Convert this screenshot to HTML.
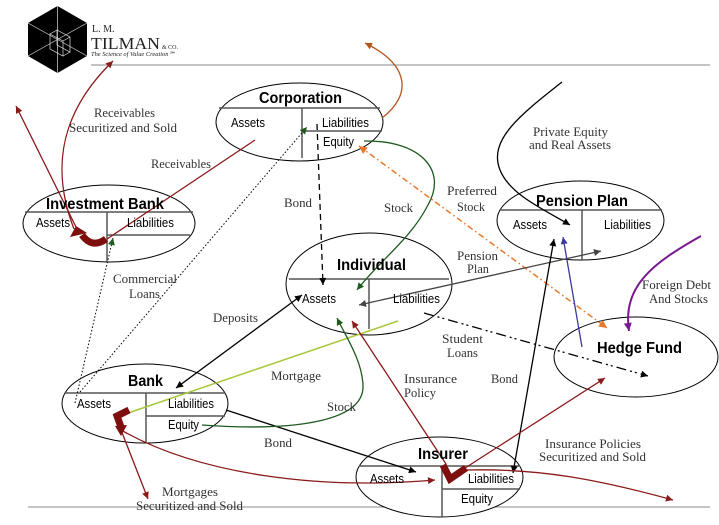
<!DOCTYPE html>
<html><head><meta charset="utf-8"><style>
html,body{margin:0;padding:0;background:#fff;}
svg{display:block;}
.t{font-family:"Liberation Sans",Arial,sans-serif;font-weight:bold;font-size:16px;fill:#000;}
.c{font-family:"Liberation Sans",Arial,sans-serif;font-size:12.5px;fill:#000;}
.s{font-family:"Liberation Serif","Times New Roman",serif;font-size:12.5px;fill:#333;}
</style></head><body>
<svg width="719" height="525" viewBox="0 0 719 525" xmlns="http://www.w3.org/2000/svg">
<defs>
<marker id="mk" viewBox="0 0 10 10" refX="10" refY="5" markerWidth="8" markerHeight="7" markerUnits="userSpaceOnUse" orient="auto-start-reverse"><path d="M0,0 L10,5 L0,10 z" fill="#000"/></marker>
<marker id="mr" viewBox="0 0 10 10" refX="10" refY="5" markerWidth="8" markerHeight="7" markerUnits="userSpaceOnUse" orient="auto-start-reverse"><path d="M0,0 L10,5 L0,10 z" fill="#8b1a1a"/></marker>
<marker id="mg" viewBox="0 0 10 10" refX="10" refY="5" markerWidth="8" markerHeight="7" markerUnits="userSpaceOnUse" orient="auto-start-reverse"><path d="M0,0 L10,5 L0,10 z" fill="#1f5a1f"/></marker>
<marker id="mo" viewBox="0 0 10 10" refX="10" refY="5" markerWidth="9" markerHeight="8" markerUnits="userSpaceOnUse" orient="auto-start-reverse"><path d="M0,0 L10,5 L0,10 z" fill="#e8792a"/></marker>
<marker id="mb" viewBox="0 0 10 10" refX="10" refY="5" markerWidth="8" markerHeight="7" markerUnits="userSpaceOnUse" orient="auto-start-reverse"><path d="M0,0 L10,5 L0,10 z" fill="#b5561f"/></marker>
<marker id="mu" viewBox="0 0 10 10" refX="10" refY="5" markerWidth="8" markerHeight="7" markerUnits="userSpaceOnUse" orient="auto-start-reverse"><path d="M0,0 L10,5 L0,10 z" fill="#3b3b9b"/></marker>
<marker id="mp" viewBox="0 0 10 10" refX="10" refY="5" markerWidth="9" markerHeight="8" markerUnits="userSpaceOnUse" orient="auto-start-reverse"><path d="M0,0 L10,5 L0,10 z" fill="#7a1890"/></marker>
<marker id="ma" viewBox="0 0 10 10" refX="10" refY="5" markerWidth="8" markerHeight="7" markerUnits="userSpaceOnUse" orient="auto-start-reverse"><path d="M0,0 L10,5 L0,10 z" fill="#444"/></marker>
</defs>
<rect width="719" height="525" fill="#fff"/>

<!-- logo -->
<polygon points="57.5,6 87,23 87,56 57.5,73 28,56 28,23" fill="#000"/>
<g stroke="#ddd" stroke-width="0.7" fill="none">
<line x1="28" y1="23" x2="87" y2="56"/>
<line x1="87" y1="23" x2="28" y2="56"/>
<line x1="57.5" y1="6" x2="57.5" y2="73"/>
<polygon points="57,30 70,37 70,52 57,45"/>
<polygon points="50,34 63,41 63,56 50,49"/>
<line x1="57" y1="30" x2="50" y2="34"/>
<line x1="70" y1="37" x2="63" y2="41"/>
<line x1="70" y1="52" x2="63" y2="56"/>
</g>
<text x="92" y="32" style="font-family:'Liberation Serif',serif;font-size:10px;fill:#222">L. M.</text>
<text x="91" y="49" textLength="69" lengthAdjust="spacingAndGlyphs" style="font-family:'Liberation Serif',serif;font-size:17px;fill:#222">TILMAN</text>
<text x="162" y="49" style="font-family:'Liberation Serif',serif;font-size:6px;fill:#222">&amp; CO.</text>
<text x="91" y="56" textLength="84" lengthAdjust="spacingAndGlyphs" style="font-family:'Liberation Serif',serif;font-style:italic;font-size:6px;fill:#222">The Science of Value Creation℠</text>

<!-- horizontal rules -->
<line x1="91" y1="65" x2="710" y2="65" stroke="#888" stroke-width="1"/>
<line x1="28" y1="507" x2="710" y2="507" stroke="#888" stroke-width="1"/>

<!-- ellipses -->
<g fill="#fff" stroke="#000" stroke-width="1">
<ellipse cx="299.5" cy="122" rx="83.5" ry="39"/>
<ellipse cx="109" cy="223.5" rx="86" ry="38.5"/>
<ellipse cx="369" cy="284" rx="83" ry="51"/>
<ellipse cx="580.5" cy="220.5" rx="83.5" ry="39.5"/>
<ellipse cx="636" cy="357" rx="82" ry="40"/>
<ellipse cx="145" cy="403.5" rx="83" ry="39.5"/>
<ellipse cx="439.5" cy="477" rx="83.5" ry="40"/>
</g>

<!-- compartment lines -->
<g stroke="#555" stroke-width="1.5" fill="none">
<line x1="219" y1="108" x2="380" y2="108"/><line x1="302" y1="108" x2="302" y2="158"/><line x1="302" y1="131" x2="382" y2="131"/>
<line x1="25" y1="212" x2="193" y2="212"/><line x1="107" y1="212" x2="107" y2="262"/><line x1="107" y1="235" x2="190" y2="235"/>
<line x1="289" y1="279" x2="449" y2="279"/><line x1="369" y1="279" x2="369" y2="329"/>
<line x1="500" y1="210" x2="662" y2="210"/><line x1="582" y1="210" x2="582" y2="260"/>
<line x1="65" y1="393" x2="225" y2="393"/><line x1="146" y1="393" x2="146" y2="443"/><line x1="146" y1="416" x2="225" y2="416"/>
<line x1="359" y1="466" x2="520" y2="466"/><line x1="442" y1="466" x2="442" y2="517"/><line x1="442" y1="489" x2="520" y2="489"/>
</g>

<!-- connectors -->
<g fill="none" stroke-width="1.3">
<!-- receivables -->
<line x1="255" y1="140" x2="107" y2="239" stroke="#8b1a1a"/>
<line x1="77" y1="229" x2="16" y2="106" stroke="#8b1a1a" marker-end="url(#mr)"/>
<path d="M74 229 C55 180,52 120,113 61" stroke="#8b1a1a" marker-end="url(#mr)"/>
<!-- brown -->
<path d="M382 118 C412 95,410 65,365 43" stroke="#b5561f" marker-end="url(#mb)"/>
<!-- commercial loans dotted -->
<line x1="80" y1="392" x2="307" y2="127" stroke="#000" stroke-width="1" stroke-dasharray="1.5 2" marker-end="url(#mg)"/>
<line x1="75" y1="403" x2="113" y2="238" stroke="#000" stroke-width="1" stroke-dasharray="1.5 2" marker-end="url(#mg)"/>
<!-- bond dashed -->
<line x1="317" y1="124" x2="323" y2="285" stroke="#000" stroke-dasharray="6 4" marker-end="url(#mk)"/>
<!-- stock green -->
<path d="M364 141 C420 140,448 170,428 205 C410 240,380 260,357 290" stroke="#1f5a1f" marker-end="url(#mg)"/>
<!-- preferred stock orange -->
<line x1="359" y1="146" x2="607" y2="328" stroke="#e8792a" stroke-width="1.5" stroke-dasharray="6 3 1.5 3" marker-start="url(#mo)" marker-end="url(#mo)"/>
<!-- private equity -->
<path d="M562 82 C520 115,488 140,500 170 C510 195,545 210,570 225" stroke="#000" marker-end="url(#mk)"/>
<!-- pension plan -->
<line x1="359" y1="305" x2="601" y2="251" stroke="#444" marker-start="url(#ma)" marker-end="url(#ma)"/>
<!-- bond insurer-pension -->
<line x1="513" y1="473" x2="554" y2="239" stroke="#000" marker-start="url(#mk)" marker-end="url(#mk)"/>
<!-- blue -->
<line x1="582" y1="347" x2="563" y2="237" stroke="#3b3b9b" marker-end="url(#mu)"/>
<!-- purple -->
<path d="M701 236 C655 262,622 285,629 331" stroke="#7a1890" stroke-width="2" marker-end="url(#mp)"/>
<!-- student loans -->
<line x1="424" y1="313" x2="648" y2="376" stroke="#000" stroke-dasharray="10 4 2 3 2 4" marker-end="url(#mk)"/>
<!-- deposits -->
<line x1="176" y1="388" x2="302" y2="295" stroke="#000" marker-start="url(#mk)" marker-end="url(#mk)"/>
<!-- mortgage -->
<line x1="398" y1="321" x2="128" y2="413" stroke="#a6c83a" stroke-width="1.5"/>
<!-- mortgages securitized -->
<line x1="121" y1="430" x2="148" y2="499" stroke="#8b1a1a" marker-end="url(#mr)"/>
<path d="M121 430 C200 475,320 490,435 480" stroke="#8b1a1a" marker-end="url(#mr)"/>
<!-- bank bond -->
<line x1="226" y1="410" x2="416" y2="472" stroke="#000" marker-end="url(#mk)"/>
<!-- stock bank -> individual -->
<path d="M202 425 C300 432,365 420,363 385 C362 360,345 335,337 318" stroke="#1f5a1f" marker-end="url(#mg)"/>
<!-- insurance policy -->
<line x1="446" y1="464" x2="352" y2="321" stroke="#8b1a1a" marker-end="url(#mr)"/>
<line x1="462" y1="470" x2="605" y2="378" stroke="#8b1a1a" marker-end="url(#mr)"/>
<path d="M466 470 C540 468,600 480,673 500" stroke="#8b1a1a" marker-end="url(#mr)"/>
</g>

<!-- fat shapes -->
<g fill="none" stroke="#7d0f0f" stroke-width="7" stroke-linejoin="miter">
<path d="M106 239 Q92 249 82 235"/>
<path d="M129 410 L117 416 L121 427"/>
<path d="M443 465 L450 479 L466 468"/>
</g>
<polygon points="76,226 70,237 87,233" fill="#7d0f0f"/>
<polygon points="115,426 127,425 121,436" fill="#7d0f0f"/>

<!-- titles -->
<text class="t" x="259" y="103" textLength="83" lengthAdjust="spacingAndGlyphs">Corporation</text>
<text class="t" x="46" y="209" textLength="118" lengthAdjust="spacingAndGlyphs">Investment Bank</text>
<text class="t" x="337" y="270" textLength="69" lengthAdjust="spacingAndGlyphs">Individual</text>
<text class="t" x="536" y="206" textLength="92" lengthAdjust="spacingAndGlyphs">Pension Plan</text>
<text class="t" x="597" y="353" textLength="85" lengthAdjust="spacingAndGlyphs">Hedge Fund</text>
<text class="t" x="128" y="386" textLength="35" lengthAdjust="spacingAndGlyphs">Bank</text>
<text class="t" x="418" y="459" textLength="50" lengthAdjust="spacingAndGlyphs">Insurer</text>

<!-- compartment labels -->
<text class="c" x="231" y="127" textLength="34" lengthAdjust="spacingAndGlyphs">Assets</text>
<text class="c" x="322" y="127" textLength="47" lengthAdjust="spacingAndGlyphs">Liabilities</text>
<text class="c" x="323" y="146" textLength="31" lengthAdjust="spacingAndGlyphs">Equity</text>
<text class="c" x="36" y="227" textLength="34" lengthAdjust="spacingAndGlyphs">Assets</text>
<text class="c" x="127" y="227" textLength="47" lengthAdjust="spacingAndGlyphs">Liabilities</text>
<text class="c" x="302" y="303" textLength="34" lengthAdjust="spacingAndGlyphs">Assets</text>
<text class="c" x="393" y="303" textLength="47" lengthAdjust="spacingAndGlyphs">Liabilities</text>
<text class="c" x="513" y="229" textLength="34" lengthAdjust="spacingAndGlyphs">Assets</text>
<text class="c" x="604" y="229" textLength="47" lengthAdjust="spacingAndGlyphs">Liabilities</text>
<text class="c" x="77" y="408" textLength="34" lengthAdjust="spacingAndGlyphs">Assets</text>
<text class="c" x="168" y="408" textLength="46" lengthAdjust="spacingAndGlyphs">Liabilities</text>
<text class="c" x="168" y="429" textLength="31" lengthAdjust="spacingAndGlyphs">Equity</text>
<text class="c" x="370" y="483" textLength="34" lengthAdjust="spacingAndGlyphs">Assets</text>
<text class="c" x="468" y="483" textLength="46" lengthAdjust="spacingAndGlyphs">Liabilities</text>
<text class="c" x="461" y="503" textLength="32" lengthAdjust="spacingAndGlyphs">Equity</text>

<!-- serif labels -->
<text class="s" x="94" y="117" textLength="61" lengthAdjust="spacingAndGlyphs">Receivables</text>
<text class="s" x="69" y="132" textLength="108" lengthAdjust="spacingAndGlyphs">Securitized and Sold</text>
<text class="s" x="151" y="168" textLength="60" lengthAdjust="spacingAndGlyphs">Receivables</text>
<text class="s" x="284" y="207" textLength="28" lengthAdjust="spacingAndGlyphs">Bond</text>
<text class="s" x="384" y="212" textLength="29" lengthAdjust="spacingAndGlyphs">Stock</text>
<text class="s" x="447" y="195" textLength="50" lengthAdjust="spacingAndGlyphs">Preferred</text>
<text class="s" x="457" y="211" textLength="28" lengthAdjust="spacingAndGlyphs">Stock</text>
<text class="s" x="533" y="136" textLength="75" lengthAdjust="spacingAndGlyphs">Private Equity</text>
<text class="s" x="529" y="149" textLength="82" lengthAdjust="spacingAndGlyphs">and Real Assets</text>
<text class="s" x="457" y="260" textLength="41" lengthAdjust="spacingAndGlyphs">Pension</text>
<text class="s" x="467" y="273" textLength="22" lengthAdjust="spacingAndGlyphs">Plan</text>
<text class="s" x="113" y="283" textLength="64" lengthAdjust="spacingAndGlyphs">Commercial</text>
<text class="s" x="129" y="298" textLength="31" lengthAdjust="spacingAndGlyphs">Loans</text>
<text class="s" x="213" y="322" textLength="45" lengthAdjust="spacingAndGlyphs">Deposits</text>
<text class="s" x="271" y="380" textLength="50" lengthAdjust="spacingAndGlyphs">Mortgage</text>
<text class="s" x="327" y="411" textLength="29" lengthAdjust="spacingAndGlyphs">Stock</text>
<text class="s" x="264" y="447" textLength="28" lengthAdjust="spacingAndGlyphs">Bond</text>
<text class="s" x="162" y="496" textLength="56" lengthAdjust="spacingAndGlyphs">Mortgages</text>
<text class="s" x="136" y="510" textLength="107" lengthAdjust="spacingAndGlyphs">Securitized and Sold</text>
<text class="s" x="442" y="343" textLength="41" lengthAdjust="spacingAndGlyphs">Student</text>
<text class="s" x="447" y="357" textLength="31" lengthAdjust="spacingAndGlyphs">Loans</text>
<text class="s" x="404" y="383" textLength="53" lengthAdjust="spacingAndGlyphs">Insurance</text>
<text class="s" x="404" y="397" textLength="32" lengthAdjust="spacingAndGlyphs">Policy</text>
<text class="s" x="491" y="383" textLength="27" lengthAdjust="spacingAndGlyphs">Bond</text>
<text class="s" x="642" y="289" textLength="69" lengthAdjust="spacingAndGlyphs">Foreign Debt</text>
<text class="s" x="649" y="303" textLength="59" lengthAdjust="spacingAndGlyphs">And Stocks</text>
<text class="s" x="545" y="448" textLength="96" lengthAdjust="spacingAndGlyphs">Insurance Policies</text>
<text class="s" x="539" y="461" textLength="107" lengthAdjust="spacingAndGlyphs">Securitized and Sold</text>
</svg>
</body></html>
